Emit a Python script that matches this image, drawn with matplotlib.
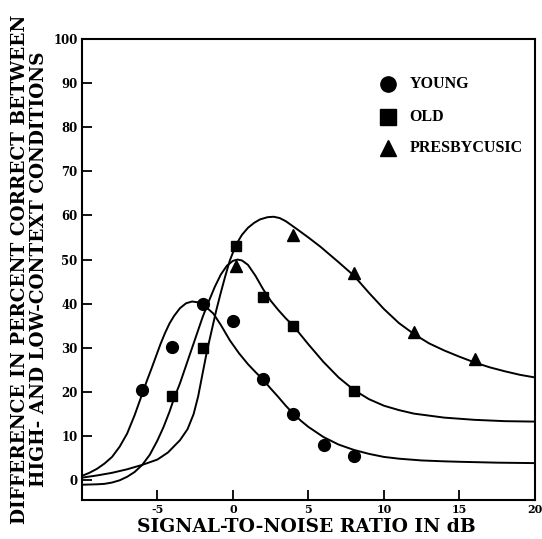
import matplotlib.pyplot as plt
import numpy as np

# measured points
young_x = [-6, -4, -2, 0, 2, 4, 6, 8]
young_y = [20.5, 30.3, 40, 36, 23, 15, 8, 5.5]
old_x = [-4, -2, 0.2, 2, 4, 8]
old_y = [19, 30, 53, 41.5, 35, 20.3]
presby_x = [0.2, 4, 8, 12, 16]
presby_y = [48.5, 55.5, 47, 33.5, 27.5]

# fitted curves
young_cx = [-10, -9.5, -9, -8.5, -8, -7.5, -7, -6.5, -6, -5.7, -5.4, -5.1, -4.8, -4.5, -4.2,
            -3.9, -3.5, -3.1, -2.7, -2.3, -2, -1.7, -1.3, -0.8, -0.2, 0.4, 1, 1.5, 2, 2.5,
            3, 3.5, 4, 4.5, 5, 6, 7, 8, 9, 10, 11, 12.5, 14, 15, 17.5, 20]
young_cy = [1.0, 1.7, 2.6, 3.8, 5.3, 7.6, 10.6, 14.8, 19.6, 22.5, 25.2, 28, 30.8, 33.3, 35.5,
            37.2, 39, 40.1, 40.5, 40.3, 39.8, 39, 37.8, 35.2, 31.7, 28.8, 26.3, 24.5, 22.8, 20.8,
            18.9, 16.9, 15.1, 13.5, 12.1, 9.8, 8.1, 6.9, 6.0, 5.3, 4.9, 4.5, 4.3, 4.2, 4.0, 3.9]
old_cx = [-10, -9, -8.5, -8, -7.5, -7, -6.5, -6, -5.5, -5, -4.6, -4.2, -3.9, -3.5, -3.2,
          -2.8, -2.4, -2, -1.6, -1.2, -0.8, -0.4, 0, 0.3, 0.6, 1, 1.5, 2, 2.5, 3, 3.5, 4,
          5, 6, 7, 8, 9, 10, 11, 12, 14, 16, 18, 20]
old_cy = [-1.0, -0.9, -0.8, -0.5, 0.0, 0.8, 1.9, 3.5, 5.8, 9, 12, 15.5, 18.5, 22, 25,
          29, 33, 37, 40.5, 43.8, 46.6, 48.6, 49.7, 50, 49.8, 48.8, 46.3, 43.3, 40.7, 38.6, 36.7, 35,
          30.8, 26.8, 23.3, 20.5, 18.4, 16.9, 15.9, 15.1, 14.2, 13.7, 13.4, 13.3]
presby_cx = [-10, -9, -8, -7, -6, -5, -4.3, -3.5, -3, -2.6, -2.3, -2, -1.7, -1.4, -1.1,
             -0.8, -0.5, -0.2, 0.2, 0.6, 1, 1.4, 1.8, 2.3, 2.7, 3.1, 3.5, 4.2, 5, 5.8,
             7, 8, 9, 10, 11, 12, 13, 14, 15, 16, 17, 18, 19, 20]
presby_cy = [0.6, 1.1, 1.7, 2.5, 3.5, 4.7, 6.3, 9.1, 11.6, 15, 19, 24.3, 29.5, 34, 38.5,
             42.5, 46.3, 49.8, 53.3, 55.6, 57.2, 58.3, 59.1, 59.6, 59.7, 59.4, 58.7, 57, 55, 52.9,
             49.4, 46.4, 42.5, 38.8, 35.6, 33.1, 31, 29.4, 28, 26.7, 25.6, 24.7, 23.9, 23.3]

legend_labels = ['YOUNG', 'OLD', 'PRESBYCUSIC']
legend_markers = ['o', 's', '^']
legend_y = [89.8, 82.3, 75.3]

xticks = [-5, 0, 5, 10, 15, 20]
yticks = list(range(0, 101, 10))

fig = plt.figure(figsize=(5.42, 5.39), dpi=100)
ax = fig.add_axes([0.151, 0.072, 0.836, 0.856])

ax.plot(young_cx, young_cy, color='black', lw=1.4)
ax.plot(old_cx, old_cy, color='black', lw=1.4)
ax.plot(presby_cx, presby_cy, color='black', lw=1.4)

ax.plot(young_x, young_y, 'o', color='black', ms=8.5, ls='none')
ax.plot(old_x, old_y, 's', color='black', ms=7.5, ls='none')
ax.plot(presby_x, presby_y, '^', color='black', ms=8, ls='none')

for lab, mk, yy in zip(legend_labels, legend_markers, legend_y):
    ax.plot(10.3, yy, mk, color='black', ms=11, ls='none')
    ax.text(11.7, yy, lab, fontsize=11.5, fontweight='bold', family='Liberation Serif',
            va='center', ha='left')

ax.set_xlim(-10, 20)
ax.set_ylim(-4.5, 100)
ax.set_xticks(xticks)
ax.set_yticks(yticks)
ax.set_xticklabels([str(t) for t in xticks], fontsize=8, fontweight='bold', family='DejaVu Serif')
ax.set_yticklabels([str(t) for t in yticks], fontsize=8.5, fontweight='bold', family='DejaVu Serif')
ax.tick_params(direction='in', length=7, width=1.3, pad=3)
for s in ax.spines.values():
    s.set_linewidth(1.5)

fig.text(0.565, 0.022, 'SIGNAL-TO-NOISE RATIO IN dB', ha='center', va='center',
         fontsize=13.5, fontweight='bold', family='DejaVu Serif')
fig.text(0.055, 0.501, 'DIFFERENCE IN PERCENT CORRECT BETWEEN\nHIGH- AND LOW-CONTEXT CONDITIONS',
         rotation=90, ha='center', va='center', multialignment='center', linespacing=1.08,
         fontsize=13.3, fontweight='bold', family='DejaVu Serif')

fig.savefig('out.png', dpi=100)
